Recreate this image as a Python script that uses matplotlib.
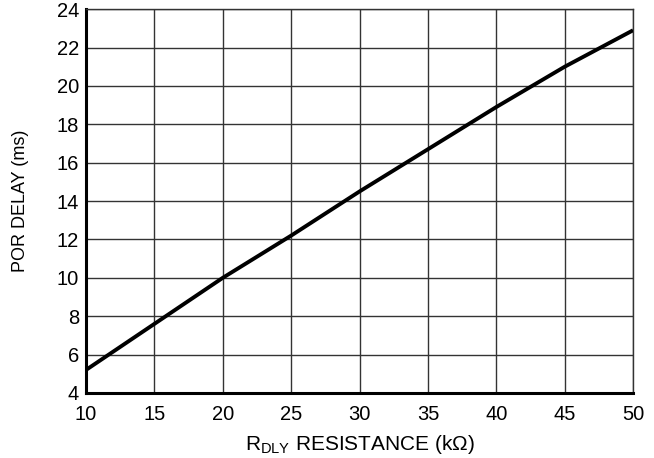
import matplotlib
matplotlib.use("Agg")
import matplotlib.pyplot as plt

# Curve
r_dly = [10, 15, 20, 25, 30, 35, 40, 45, 50]
por_delay = [5.2, 7.6, 10.0, 12.2, 14.5, 16.7, 18.9, 21.0, 22.9]

x_ticks = [10, 15, 20, 25, 30, 35, 40, 45, 50]
y_ticks = [4, 6, 8, 10, 12, 14, 16, 18, 20, 22, 24]

plt.rcParams["font.family"] = ["Liberation Sans", "DejaVu Sans"]
plt.rcParams["mathtext.fontset"] = "custom"
plt.rcParams["mathtext.rm"] = "Liberation Sans"

fig = plt.figure(figsize=(6.54, 4.58), dpi=100)
ax = fig.add_axes([0.1315, 0.142, 0.8365, 0.838])

ax.plot(r_dly, por_delay, color="black", linewidth=2.8, solid_capstyle="butt", zorder=3)

ax.set_xlim(10, 50)
ax.set_ylim(4, 24)
ax.set_xticks(x_ticks)
ax.set_yticks(y_ticks)
ax.tick_params(length=0, labelsize=14.5)
ax.tick_params(axis="x", pad=9)
ax.tick_params(axis="y", pad=5)
ax.grid(True, color="#333333", linewidth=1.0)

for side in ["top", "right"]:
    ax.spines[side].set_linewidth(1.0)
    ax.spines[side].set_color("#333333")
for side in ["left", "bottom"]:
    ax.spines[side].set_linewidth(2.2)
    ax.spines[side].set_color("black")

ax.set_xlabel(r"R$_{\rm DLY}$ RESISTANCE (k$\Omega$)", fontsize=15, labelpad=6)
ax.set_ylabel("POR DELAY (ms)", fontsize=13, labelpad=20)

fig.savefig("out.png", dpi=100)
